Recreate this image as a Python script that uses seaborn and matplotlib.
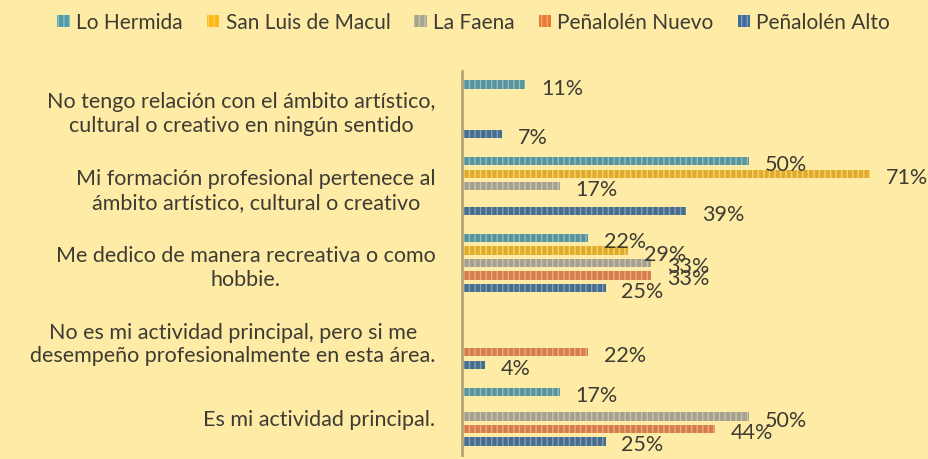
import numpy as np
import pandas as pd
import seaborn as sns
import matplotlib.pyplot as plt
from matplotlib.patches import Patch
import matplotlib.colors as mcolors

categories = [
    "No tengo relación con el ámbito artístico,\ncultural o creativo en ningún sentido",
    "Mi formación profesional pertenece al\námbito artístico, cultural o creativo",
    "Me dedico de manera recreativa o como\nhobbie.",
    "No es mi actividad principal, pero si me\ndesempeño profesionalmente en esta área.",
    "Es mi actividad principal.",
]
series = ["Lo Hermida", "San Luis de Macul", "La Faena", "Peñalolén Nuevo", "Peñalolén Alto"]
lo_hermida = [11, 50, 22, np.nan, 17]
san_luis_de_macul = [np.nan, 71, 29, np.nan, np.nan]
la_faena = [np.nan, 17, 33, np.nan, 50]
penalolen_nuevo = [np.nan, np.nan, 33, 22, 44]
penalolen_alto = [7, 39, 25, 4, 25]
colors = ["#4F9CA5", "#FDB813", "#A9A488", "#EB7A34", "#3F6C98"]

values = [lo_hermida, san_luis_de_macul, la_faena, penalolen_nuevo, penalolen_alto]
rows = []
for s, vals in zip(series, values):
    for c, v in zip(categories, vals):
        rows.append({"categoria": c, "serie": s, "valor": v})
df = pd.DataFrame(rows).dropna()

sns.set_theme(style="white")
plt.rcParams["font.family"] = ["Lato", "DejaVu Sans"]
plt.rcParams["hatch.linewidth"] = 1.0
bg = "#FDEBA6"
text_color = "#3E3B33"

fig = plt.figure(figsize=(9.29, 4.60), dpi=100, facecolor=bg)
ax = fig.add_axes([462 / 929, 1 - 456 / 460, 467 / 929, 384 / 460])
ax.set_facecolor(bg)

sns.barplot(data=df, y="categoria", x="valor", hue="serie", order=categories,
            hue_order=series, palette=colors, orient="h", width=0.81, gap=0.33,
            legend=False, ax=ax, errorbar=None)

def tint(c, f=0.35):
    r, g, b = mcolors.to_rgb(c)
    return (r + (1 - r) * f, g + (1 - g) * f, b + (1 - b) * f)

for cont, col in zip(ax.containers, colors):
    for bar in cont:
        w = bar.get_width()
        if not np.isfinite(w) or w == 0:
            continue
        bar.set_hatch("|||")
        bar.set_edgecolor(tint(col))
        bar.set_linewidth(0)
        y = bar.get_y() + bar.get_height() / 2
        ax.annotate(f"{int(round(w))}%", xy=(w, y), xytext=(16, -3),
                    textcoords="offset pixels", ha="left", va="center",
                    fontsize=15.5, color=text_color)

ax.set_xlim(0, 467 / 5.74)
ax.set_ylim(4.5, -0.5)
ax.set_xlabel("")
ax.set_ylabel("")
ax.set_xticks([])
ax.tick_params(axis="y", length=0, pad=19, labelsize=15.5, labelcolor=text_color)
for lab in ax.get_yticklabels():
    lab.set_multialignment("center")
    lab.set_linespacing(1.22)
for side in ["top", "right", "bottom"]:
    ax.spines[side].set_visible(False)
ax.spines["left"].set_color("#B3A67C")
ax.spines["left"].set_linewidth(2)

handles = [Patch(facecolor=c, edgecolor=tint(c), hatch="|||", linewidth=0) for c in colors]
leg = fig.legend(handles, series, loc="upper center", bbox_to_anchor=(0.51, 1.012),
                 ncol=5, frameon=False, fontsize=15, handlelength=0.6,
                 handleheight=0.55, handletextpad=0.3, columnspacing=1.15,
                 labelcolor=text_color)

fig.savefig("out.png", dpi=100, facecolor=bg)
